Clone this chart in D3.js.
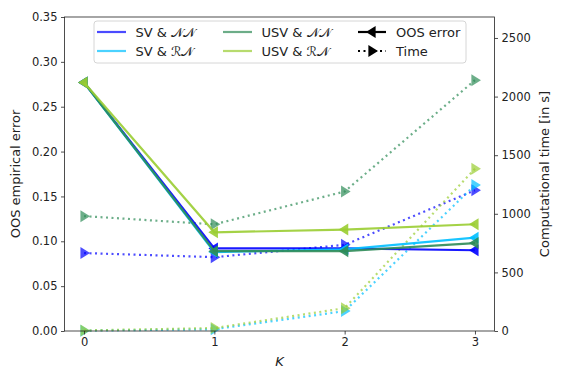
<!DOCTYPE html>
<html>
<head>
<meta charset="utf-8">
<script src="https://cdn.jsdelivr.net/npm/d3@7/dist/d3.min.js"></script>
<style>
body{margin:0;background:#fff;}
svg text{font-family:"DejaVu Sans",sans-serif;fill:#222;}
</style>
</head>
<body>
<div id="chart"></div>
<script>
// K values on the x axis
var ks=[0,1,2,3];
var xTicks=[0,1,2,3];
var leftTicks=[0,0.05,0.10,0.15,0.20,0.25,0.30,0.35];
var rightTicks=[0,500,1000,1500,2000,2500];

// OOS empirical error
var errSVNN=[0.277,0.092,0.092,0.090];
var errSVRN=[0.277,0.088,0.091,0.104];
var errUSVNN=[0.277,0.089,0.089,0.098];
var errUSVRN=[0.277,0.110,0.113,0.119];

// computational time [s]
var timeSVNN=[665,630,735,1200];
var timeSVRN=[3,15,170,1245];
var timeUSVNN=[980,910,1190,2140];
var timeUSVRN=[5,25,195,1385];

var names=["SV & 𝒩𝒩","SV & ℛ𝒩","USV & 𝒩𝒩","USV & ℛ𝒩"];
var colors=["#0000ff","#00bfff","#2e8b57","#9acd32"];

var W=564,H=377;
var margin={left:64.5,right:69.5,top:17,bottom:46};
var iw=W-margin.left-margin.right, ih=H-margin.top-margin.bottom;

var svg=d3.select("#chart").append("svg").attr("width",W).attr("height",H);
var g=svg.append("g").attr("transform","translate("+margin.left+","+margin.top+")");

var x=d3.scaleLinear().domain([-0.15,3.15]).range([0,iw]);
var yL=d3.scaleLinear().domain([0,0.35]).range([ih,0]);
var yR=d3.scaleLinear().domain([0,2679]).range([ih,0]);

var errs=[errSVNN,errSVRN,errUSVNN,errUSVRN];
var times=[timeSVNN,timeSVRN,timeUSVNN,timeUSVRN];

function tri(dir,s){
	// triangle pointing left (dir=-1) or right (dir=1)
	return "M"+(dir*s)+",0L"+(-dir*s*0.6)+","+(-s)+"L"+(-dir*s*0.6)+","+s+"Z";
}

var plot=g.append("g");
// time series (dotted)
times.forEach(function(t,i){
	var line=d3.line().x(function(d,j){return x(ks[j]);}).y(function(d){return yR(d);});
	plot.append("path").datum(t).attr("d",line)
		.attr("fill","none").attr("stroke",colors[i]).attr("stroke-width",2.2)
		.attr("stroke-dasharray","2,3.5").attr("opacity",0.7);
	plot.selectAll(null).data(t).enter().append("path")
		.attr("d",tri(1,6))
		.attr("transform",function(d,j){return "translate("+x(ks[j])+","+yR(d)+")";})
		.attr("fill",colors[i]).attr("opacity",0.7);
});
// error series (solid)
errs.forEach(function(e,i){
	var line=d3.line().x(function(d,j){return x(ks[j]);}).y(function(d){return yL(d);});
	plot.append("path").datum(e).attr("d",line)
		.attr("fill","none").attr("stroke",colors[i]).attr("stroke-width",2.2).attr("opacity",0.9);
	plot.selectAll(null).data(e).enter().append("path")
		.attr("d",tri(-1,6))
		.attr("transform",function(d,j){return "translate("+x(ks[j])+","+yL(d)+")";})
		.attr("fill",colors[i]).attr("opacity",0.9);
});

// axes
var xAxis=g.append("g").attr("transform","translate(0,"+ih+")")
	.call(d3.axisBottom(x).tickValues(xTicks).tickFormat(d3.format("d")).tickSize(3.5).tickPadding(3.5));
var lAxis=g.append("g")
	.call(d3.axisLeft(yL).tickValues(leftTicks).tickFormat(d3.format(".2f")).tickSize(3.5).tickPadding(3.5));
var rAxis=g.append("g").attr("transform","translate("+iw+",0)")
	.call(d3.axisRight(yR).tickValues(rightTicks).tickFormat(d3.format("d")).tickSize(3.5).tickPadding(3.5));
[xAxis,lAxis,rAxis].forEach(function(a){
	a.select(".domain").remove();
	a.selectAll("line").attr("stroke","#222").attr("stroke-width",0.8);
	a.selectAll("text").attr("font-size","11.5px").attr("fill","#222").attr("font-family","DejaVu Sans");
});
g.append("rect").attr("width",iw).attr("height",ih).attr("fill","none").attr("stroke","#222").attr("stroke-width",0.8);

// labels
svg.append("text").attr("x",margin.left+iw/2).attr("y",366).attr("text-anchor","middle")
	.attr("font-size","13px").attr("font-style","italic").text("K");
svg.append("text").attr("transform","translate(20,"+(margin.top+ih/2)+") rotate(-90)")
	.attr("text-anchor","middle").attr("font-size","13px").text("OOS empirical error");
svg.append("text").attr("transform","translate(549,"+(margin.top+ih/2)+") rotate(-90)")
	.attr("text-anchor","middle").attr("font-size","13px").text("Computational time [in s]");

// legend
var lg=svg.append("g");
lg.append("rect").attr("x",94).attr("y",21).attr("width",372).attr("height",42).attr("rx",3)
	.attr("fill","#fff").attr("fill-opacity",0.8).attr("stroke","#ccc").attr("stroke-width",0.8);
var cols=[[97,135.5],[97,135.5],[223,261.5],[223,261.5]];
var rows=[32,51,32,51];
names.forEach(function(n,i){
	lg.append("line").attr("x1",cols[i][0]).attr("x2",cols[i][0]+29).attr("y1",rows[i]).attr("y2",rows[i])
		.attr("stroke",colors[i]).attr("stroke-width",2.2).attr("opacity",0.7);
	lg.append("text").attr("x",cols[i][1]).attr("y",rows[i]+4.5).attr("font-size","13px").text(n);
});
lg.append("line").attr("x1",358).attr("x2",386).attr("y1",32).attr("y2",32).attr("stroke","#000").attr("stroke-width",2.2);
lg.append("path").attr("d",tri(-1,6)).attr("transform","translate(372,32)").attr("fill","#000");
lg.append("text").attr("x",396).attr("y",36.5).attr("font-size","13px").text("OOS error");
lg.append("line").attr("x1",358).attr("x2",386).attr("y1",51).attr("y2",51).attr("stroke","#000").attr("stroke-width",2.2).attr("stroke-dasharray","2,3.5");
lg.append("path").attr("d",tri(1,6)).attr("transform","translate(372,51)").attr("fill","#000");
lg.append("text").attr("x",396).attr("y",55.5).attr("font-size","13px").text("Time");
</script>
</body>
</html>
